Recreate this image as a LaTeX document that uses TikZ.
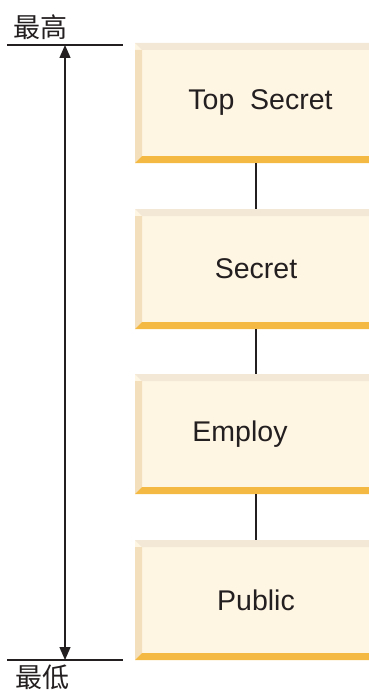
\documentclass[tikz,border=0pt]{standalone}
\usepackage{fontspec}
\setmainfont{Liberation Sans}
\newfontfamily\cjkfont{Noto Sans CJK SC}
\usetikzlibrary{arrows.meta,positioning}

\definecolor{boxfill}{HTML}{FFF5E3}
\definecolor{boxtop}{HTML}{F3E7D6}
\definecolor{boxleft}{HTML}{F3DFBC}
\definecolor{boxbottom}{HTML}{F4B942}
\definecolor{linegray}{HTML}{231F20}

\begin{document}
\begin{tikzpicture}[
		x=1bp, y=-1bp,
		level/.style = {rectangle, inner sep=0pt, fill=boxfill,
			minimum width=242bp, minimum height=120bp,
			font=\fontsize{28.5bp}{34bp}\selectfont, text=linegray,
			path picture={
				\fill[boxtop] (path picture bounding box.north west) -- (path picture bounding box.north east)
				-- ([yshift=-7bp]path picture bounding box.north east) -- ([shift={(7bp,-7bp)}]path picture bounding box.north west) -- cycle;
				\fill[boxleft] ([yshift=-7bp]path picture bounding box.north west) -- ([shift={(7bp,-7bp)}]path picture bounding box.north west)
				-- ([shift={(7bp,7bp)}]path picture bounding box.south west) -- (path picture bounding box.south west) -- cycle;
				\fill[boxbottom] (path picture bounding box.south west) -- ([shift={(7bp,7bp)}]path picture bounding box.south west)
				-- ([yshift=7bp]path picture bounding box.south east) -- (path picture bounding box.south east) -- cycle;
			}},
		mark text/.style = {font=\cjkfont\fontsize{27bp}{30bp}\selectfont, text=linegray, inner sep=0pt},
		link/.style = {draw=linegray, line width=1.3bp},
		>={Triangle[length=13bp,width=11bp]}]
		
		\useasboundingbox (0,0) rectangle (368,690);
		
		% the four levels, top to bottom
		\node[level] (ts) at (256,103) {\hspace*{9bp}Top\ \ Secret};
		\node[level] (s) at (256,269) {Secret};
		\node[level] (e) at (256,434) {Employ\hspace*{32bp}};
		\node[level] (p) at (256,600) {Public};
		
		% lines between the levels
		\foreach \upper/\lower in {ts/s, s/e, e/p}
		\draw[link] (\upper.south) -- (\lower.north);
		
		% scale on the left
		\coordinate (hiL) at (7,45);
		\coordinate (hiR) at (123,45);
		\coordinate (loL) at (7,660);
		\coordinate (loR) at (123,660);
		\coordinate (hi) at (65,45);
		\coordinate (lo) at (65,660);
		
		\draw[link] (hiL) -- (hiR);
		\draw[link] (loL) -- (loR);
		\draw[link, <->] (hi) -- (lo);
		
		\node[mark text, above=5bp of hi, xshift=-24bp] (high) {最高};
		\node[mark text, below=5bp of lo, xshift=-22bp] (low) {最低};
		
	\end{tikzpicture}
\end{document}
